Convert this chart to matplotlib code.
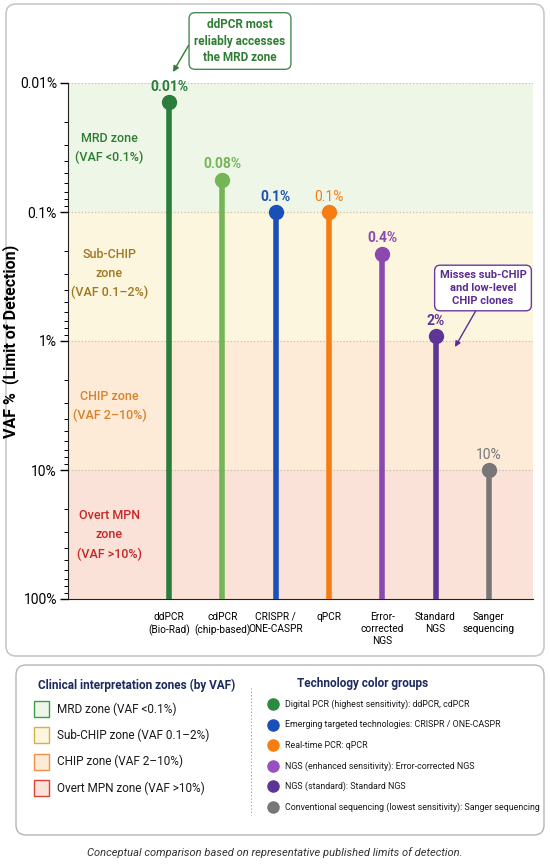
import numpy as np
import matplotlib.pyplot as plt
from matplotlib.patches import FancyBboxPatch, Rectangle
from matplotlib.lines import Line2D

plt.rcParams['font.family'] = ['Roboto', 'DejaVu Sans']

# ============================================================
# DATA
# ============================================================
techs = ['ddPCR\n(Bio-Rad)', 'cdPCR\n(chip-based)', 'CRISPR /\nONE-CASPR', 'qPCR',
         'Error-\ncorrected\nNGS', 'Standard\nNGS', 'Sanger\nsequencing']
lod_plot = [0.014, 0.056, 0.1, 0.1, 0.21, 0.92, 10.0]      # marker positions (VAF %)
lod_labels = ['0.01%', '0.08%', '0.1%', '0.1%', '0.4%', '2%', '10%']
tech_colors = ['#2a7d3b', '#74b655', '#1a4fb8', '#f57d12', '#8b49b0', '#5c3596', '#777777']
label_bold = [True, True, True, False, True, True, False]

zone_edges = [0.01, 0.1, 1, 10, 100]
zone_fill = ['#eef6e8', '#fdf6de', '#fdebd8', '#fbe2d9']
zone_edge_col = ['#3f9a4a', '#d8b04a', '#f0914a', '#d9423a']
zone_text = ['MRD zone\n(VAF <0.1%)', 'Sub-CHIP\nzone\n(VAF 0.1\u20132%)',
             'CHIP zone\n(VAF 2\u201310%)', 'Overt MPN\nzone\n(VAF >10%)']
zone_text_col = ['#2e7d32', '#a07720', '#d9822b', '#c62828']
zone_text_y = [0.032, 0.30, 3.2, 32]
zone_legend = ['MRD zone (VAF <0.1%)', 'Sub-CHIP zone (VAF 0.1\u20132%)',
               'CHIP zone (VAF 2\u201310%)', 'Overt MPN zone (VAF >10%)']

group_colors = ['#2a8a3e', '#1a4fb8', '#f57d12', '#9a4fc0', '#5c3596', '#777777']
group_labels = ['Digital PCR (highest sensitivity): ddPCR, cdPCR',
                'Emerging targeted technologies: CRISPR / ONE-CASPR',
                'Real-time PCR: qPCR',
                'NGS (enhanced sensitivity): Error-corrected NGS',
                'NGS (standard): Standard NGS',
                'Conventional sequencing (lowest sensitivity): Sanger sequencing']

yticks = [0.01, 0.1, 1, 10, 100]
ytick_labels = ['0.01%', '0.1%', '1%', '10%', '100%']

# ============================================================
# FIGURE: background cards, main axes, overlay for callouts
# ============================================================
W, H = 550, 865
fig = plt.figure(figsize=(W / 100, H / 100), dpi=100)
fig.patch.set_facecolor('white')


def pixel_axes(z):
    a = fig.add_axes([0, 0, 1, 1], zorder=z)
    a.set_xlim(0, W)
    a.set_ylim(H, 0)
    a.axis('off')
    a.patch.set_visible(False)
    return a


bg = pixel_axes(0)
bg.add_patch(FancyBboxPatch((6, 4), 538, 652, boxstyle='round,pad=0,rounding_size=10',
                            fc='white', ec='#c8c8c8', lw=1.2))
bg.add_patch(FancyBboxPatch((16, 665), 528, 170, boxstyle='round,pad=0,rounding_size=10',
                            fc='white', ec='#b5b5b5', lw=1.0))

ax = fig.add_axes([68 / W, 1 - 599 / H, (533 - 68) / W, (599 - 83) / H], zorder=1)
ax.set_yscale('log')
ax.set_ylim(100, 0.01)
ax.set_xlim(-1.9, 6.83)

for i in range(4):
    ax.axhspan(zone_edges[i], zone_edges[i + 1], color=zone_fill[i], lw=0, zorder=0)
    ax.text(-1.12, zone_text_y[i], zone_text[i], color=zone_text_col[i], fontsize=9,
            ha='center', va='center', linespacing=1.6, fontweight='medium')
for y in zone_edges[:-1]:
    ax.axhline(y, color='#c9c2a8', ls=':', lw=0.9, zorder=1)

x = np.arange(len(techs))
for i, (v, c) in enumerate(zip(lod_plot, tech_colors)):
    ax.plot([i, i], [100, v], color=c, lw=4, solid_capstyle='butt', zorder=3)
    ax.plot(i, v, 'o', ms=10, color=c, zorder=4)
    ax.annotate(lod_labels[i], (i, v), xytext=(0, 6), textcoords='offset points',
                ha='center', va='bottom', color=c, fontsize=10,
                fontweight='bold' if label_bold[i] else 'normal')

ax.set_yticks(yticks)
ax.set_yticklabels(ytick_labels, fontsize=10)
ax.set_xticks(x)
ax.set_xticklabels(techs, fontsize=7.3, linespacing=1.3)
ax.tick_params(axis='x', length=0, pad=9)
ax.tick_params(axis='y', which='major', length=6, width=1, pad=2)
ax.tick_params(axis='y', which='minor', length=3, width=0.7)
for s in ['top', 'right']:
    ax.spines[s].set_visible(False)
ax.spines['left'].set_color('#222222')
ax.spines['bottom'].set_color('#222222')
ax.set_ylabel('VAF %  (Limit of Detection)', fontsize=11.5, fontweight='bold')
ax.yaxis.set_label_coords(-0.105, 0.5)

ov = pixel_axes(2)

# ============================================================
# CALLOUTS (pixel coords on overlay)
# ============================================================
ov.annotate('ddPCR most\nreliably accesses\nthe MRD zone', xy=(173, 72), xytext=(240, 41),
            ha='center', va='center', color='#2e7d32', fontsize=8.5, fontweight='bold',
            linespacing=1.35,
            bbox=dict(boxstyle='round,pad=0.45,rounding_size=0.5', fc='white',
                      ec='#4a8a50', lw=1.0),
            arrowprops=dict(arrowstyle='-|>', color='#2e7d32', lw=1.0,
                            shrinkA=0, shrinkB=0, relpos=(0.0, 0.62)))
ov.annotate('Misses sub-CHIP\nand low-level\nCHIP clones', xy=(455, 347), xytext=(483, 288),
            ha='center', va='center', color='#5c2d91', fontsize=8, fontweight='bold',
            linespacing=1.35,
            bbox=dict(boxstyle='round,pad=0.45,rounding_size=0.5', fc='white',
                      ec='#6a3aa0', lw=1.0),
            arrowprops=dict(arrowstyle='-|>', color='#5c2d91', lw=1.0,
                            shrinkA=0, shrinkB=0, relpos=(0.45, 0.0)))

# ============================================================
# LEGEND PANEL
# ============================================================
ov.text(137, 685, 'Clinical interpretation zones (by VAF)', color='#1c2a60',
        fontsize=8.5, fontweight='bold', ha='center', va='center')
for k in range(4):
    yc = 709 + k * 26.3
    ov.add_patch(Rectangle((34, yc - 8), 15, 16, fc=zone_fill[k], ec=zone_edge_col[k], lw=1.0))
    ov.text(57, yc, zone_legend[k], fontsize=8.5, va='center', ha='left', color='#1a1a1a')

ov.add_line(Line2D([251, 251], [688, 815], color='#9a9a9a', ls=(0, (1, 2)), lw=0.8))

ov.text(297, 684, 'Technology color groups', color='#1c2a60',
        fontsize=8.5, fontweight='bold', ha='left', va='center')
for k in range(6):
    yc = 704 + k * 20.6
    ov.plot(273, yc, 'o', ms=8, color=group_colors[k])
    ov.text(285, yc, group_labels[k], fontsize=6.4, va='center', ha='left', color='#1a1a1a')

ov.text(275, 853, 'Conceptual comparison based on representative published limits of detection.',
        fontsize=8, style='italic', ha='center', va='center', color='#333333')

fig.savefig('out.png', dpi=100)
